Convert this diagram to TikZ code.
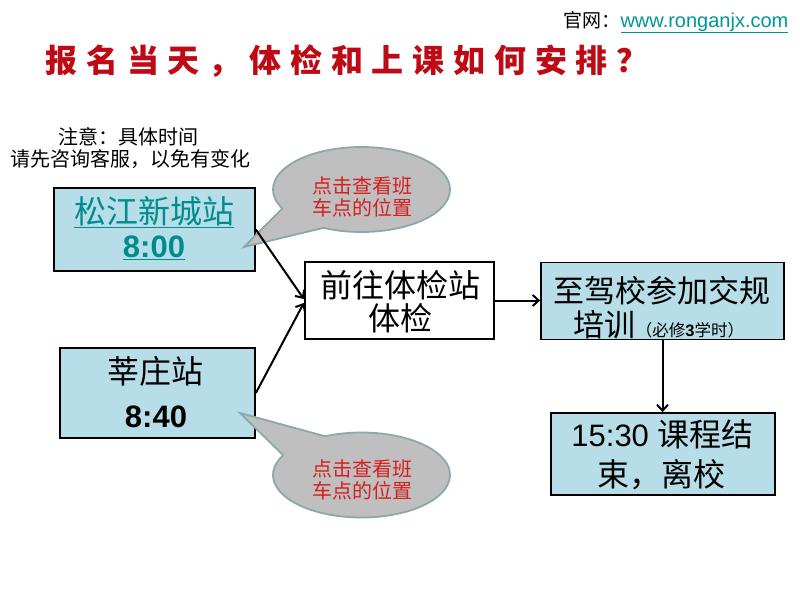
\documentclass[tikz,border=0pt]{standalone}
\usepackage{fontspec}
\setmainfont{Liberation Sans}
\newfontfamily\cjk{Noto Sans CJK SC}
\usetikzlibrary{shapes.callouts,arrows.meta}
\definecolor{boxfill}{HTML}{B7DEE8}
\definecolor{tealtxt}{RGB}{0,140,140}
\definecolor{linkc}{RGB}{0,150,150}
\definecolor{titlered}{RGB}{190,10,20}
\definecolor{callred}{RGB}{215,30,30}
\definecolor{callfill}{RGB}{191,191,191}
\definecolor{callline}{RGB}{140,168,168}
\begin{document}
\begin{tikzpicture}[x=1pt,y=-1pt,
  box/.style={draw=black,line width=1.7pt,fill=boxfill,inner sep=0pt},
  big/.style={anchor=base,font=\cjk\fontsize{32}{36}\selectfont},
  bigd/.style={anchor=base,font=\fontsize{31}{36}\selectfont},
  calltxt/.style={anchor=base,text=callred,font=\cjk\fontsize{20}{22}\selectfont},
  bubble/.style={ellipse callout,draw=callline,line width=1.8pt,fill=callfill,
     minimum width=177pt,minimum height=85pt,inner sep=0pt,callout pointer arc=38},
  arr/.style={line width=2pt,-{Straight Barb[length=6pt,width=11pt]}}]
\fill[white] (0,0) rectangle (800,600);
\useasboundingbox (0,0) rectangle (800,600);

% header
\node[anchor=base west,font=\cjk\fontsize{19}{20}\selectfont] (web) at (560,27) {官网：};
\node[anchor=base west,text=linkc,font=\fontsize{20}{22}\selectfont] (link) at (617,27) {\underline{www.ronganjx.com}};
\node[anchor=base west,text=titlered,font=\cjk\bfseries\fontsize{32}{36}\selectfont\addfontfeature{LetterSpace=27.5}] (title) at (42,72) {报名当天，体检和上课如何安排？};

% note
\node[anchor=base,font=\cjk\fontsize{20}{22}\selectfont] (n1) at (128,144) {注意：具体时间};
\node[anchor=base,font=\cjk\fontsize{20}{22}\selectfont] (n2) at (130,166) {请先咨询客服，以免有变化};

% boxes
\node[box,minimum width=201pt,minimum height=83pt] (b1) at (154.5,229.5) {};
\node[box,minimum width=195pt,minimum height=90pt] (b2) at (157.5,393) {};
\node[box,fill=white,line width=2.4pt,minimum width=189pt,minimum height=77pt] (exam) at (399.5,300.5) {};
\node[box,minimum width=243pt,minimum height=77pt] (train) at (662.5,301) {};
\node[box,minimum width=224pt,minimum height=82pt] (fin) at (663,454) {};

% callouts
\coordinate (p1) at (244,247);
\coordinate (p2) at (240,413);
\node[bubble,callout absolute pointer={(p1)}] (c1) at (361.5,189.5) {};
\node[bubble,callout absolute pointer={(p2)}] (c2) at (361.5,475) {};
\node[calltxt] (c1a) at (362,193) {点击查看班};
\node[calltxt] (c1b) at (362,215) {车点的位置};
\node[calltxt] (c2a) at (362,476) {点击查看班};
\node[calltxt] (c2b) at (362,498) {车点的位置};

% box texts
\node[big,text=tealtxt] (t1a) at (154,223) {\underline{松江新城站}};
\node[bigd,text=tealtxt,font=\bfseries\fontsize{31}{36}\selectfont] (t1b) at (154,257) {\underline{8:00}};
\node[big] (t2a) at (155,383) {莘庄站};
\node[bigd,font=\bfseries\fontsize{31}{36}\selectfont] (t2b) at (156,427) {8:40};
\node[big] (t3a) at (400,297) {前往体检站};
\node[big] (t3b) at (400,330) {体检};
\node[big,font=\cjk\fontsize{31}{36}\selectfont] (t4a) at (661.5,302) {至驾校参加交规};
\node[bigd] (t4b) at (659,336) {{\cjk\fontsize{31}{36}\selectfont 培训}{\fontsize{16.5}{18}\selectfont\cjk （必修}{\fontsize{16.5}{18}\selectfont\bfseries 3}{\fontsize{16.5}{18}\selectfont\cjk 学时）}};
\node[bigd] (t5a) at (662.5,446) {15:30 {\cjk\fontsize{32}{36}\selectfont 课程结}};
\node[big] (t5b) at (661.5,486) {束，离校};

% arrows
\draw[arr] (b1.east) -- ([yshift=1.5pt]exam.west);
\draw[arr] (b2.east) -- ([yshift=-2.5pt]exam.west);
\draw[arr] (exam.east) -- (exam.east -| train.west);
\draw[arr] (train.south) -- (train.south |- fin.north);
\end{tikzpicture}
\end{document}
